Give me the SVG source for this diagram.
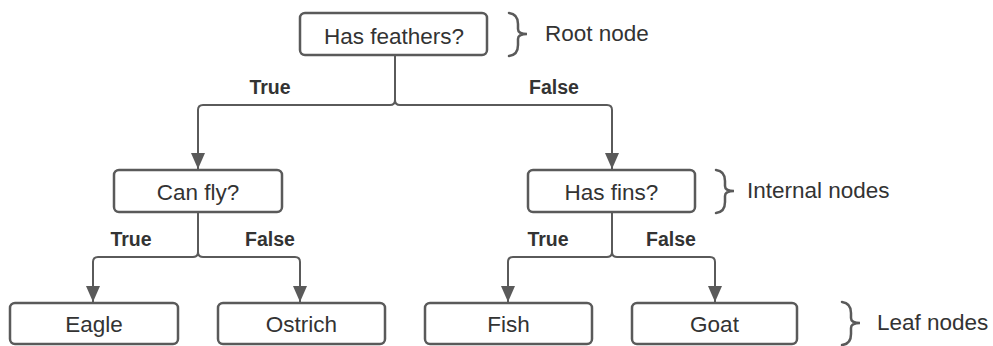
<svg xmlns="http://www.w3.org/2000/svg" width="993" height="346" viewBox="0 0 993 346">
<style>
.box{fill:#fff;stroke:#5a5a5a;stroke-width:2.5}
.t{font-family:"Liberation Sans",Arial,sans-serif;font-size:22.5px;fill:#333;text-anchor:middle;dominant-baseline:central}
.lbl{font-family:"Liberation Sans",Arial,sans-serif;font-size:19.5px;font-weight:bold;fill:#333;text-anchor:middle;dominant-baseline:central}
.side{font-family:"Liberation Sans",Arial,sans-serif;font-size:22.5px;fill:#333;dominant-baseline:central}
.c{fill:none;stroke:#5a5a5a;stroke-width:2}
.br{fill:none;stroke:#5a5a5a;stroke-width:2.5;stroke-linecap:round}
</style>
<defs>
<marker id="ah" markerWidth="16" markerHeight="14" refX="16" refY="7" orient="auto" markerUnits="userSpaceOnUse">
<path d="M0,0 L16,7 L0,14 Z" fill="#5a5a5a"/>
</marker>
</defs>
<rect width="993" height="346" fill="#fff"/>
<g id="connectors">
<path class="c" d="M395,55 V100 Q395,105 390,105 H203 Q198,105 198,110 V169" marker-end="url(#ah)"/>
<path class="c" d="M395,100 Q395,105 400,105 H607 Q612,105 612,110 V169" marker-end="url(#ah)"/>
<path class="c" d="M198,212 V252 Q198,257 193,257 H98 Q93,257 93,262 V302" marker-end="url(#ah)"/>
<path class="c" d="M198,252 Q198,257 203,257 H295 Q300,257 300,262 V302" marker-end="url(#ah)"/>
<path class="c" d="M612,212 V252 Q612,257 607,257 H513 Q508,257 508,262 V302" marker-end="url(#ah)"/>
<path class="c" d="M612,252 Q612,257 617,257 H710 Q715,257 715,262 V302" marker-end="url(#ah)"/>
<text class="lbl" x="270" y="87">True</text>
<text class="lbl" x="554" y="87">False</text>
<text class="lbl" x="131" y="239">True</text>
<text class="lbl" x="270" y="239">False</text>
<text class="lbl" x="548" y="239">True</text>
<text class="lbl" x="671" y="239">False</text>
</g>
<g id="root">
<rect class="box" x="300" y="13" width="187" height="42" rx="5"/>
<text class="t" x="394" y="36">Has feathers?</text>
</g>
<g id="canfly">
<rect class="box" x="114" y="170" width="168" height="42" rx="5"/>
<text class="t" x="198" y="192">Can fly?</text>
</g>
<g id="hasfins">
<rect class="box" x="528" y="170" width="167" height="42" rx="5"/>
<text class="t" x="611.5" y="192">Has fins?</text>
</g>
<g id="eagle">
<rect class="box" x="10" y="303" width="168" height="41" rx="5"/>
<text class="t" x="94" y="324">Eagle</text>
</g>
<g id="ostrich">
<rect class="box" x="218" y="303" width="167" height="41" rx="5"/>
<text class="t" x="301.5" y="324">Ostrich</text>
</g>
<g id="fish">
<rect class="box" x="425" y="303" width="167" height="41" rx="5"/>
<text class="t" x="508.5" y="324">Fish</text>
</g>
<g id="goat">
<rect class="box" x="632" y="303" width="165" height="41" rx="5"/>
<text class="t" x="714.5" y="324">Goat</text>
</g>
<g id="legend-root">
<path class="br" d="M509,13 Q518,14 518,24 V29 Q518,34 527,34 Q518,34 518,39 V45 Q518,55 509,56"/>
<text class="side" x="545" y="33">Root node</text>
</g>
<g id="legend-internal">
<path class="br" d="M716,170 Q725,171 725,181 V186 Q725,191 734,191 Q725,191 725,196 V202 Q725,212 716,213"/>
<text class="side" x="747" y="190">Internal nodes</text>
</g>
<g id="legend-leaf">
<path class="br" d="M842,302 Q851,303 851,313 V318 Q851,323 860,323 Q851,323 851,328 V334 Q851,344 842,345"/>
<text class="side" x="877" y="322">Leaf nodes</text>
</g>
</svg>
